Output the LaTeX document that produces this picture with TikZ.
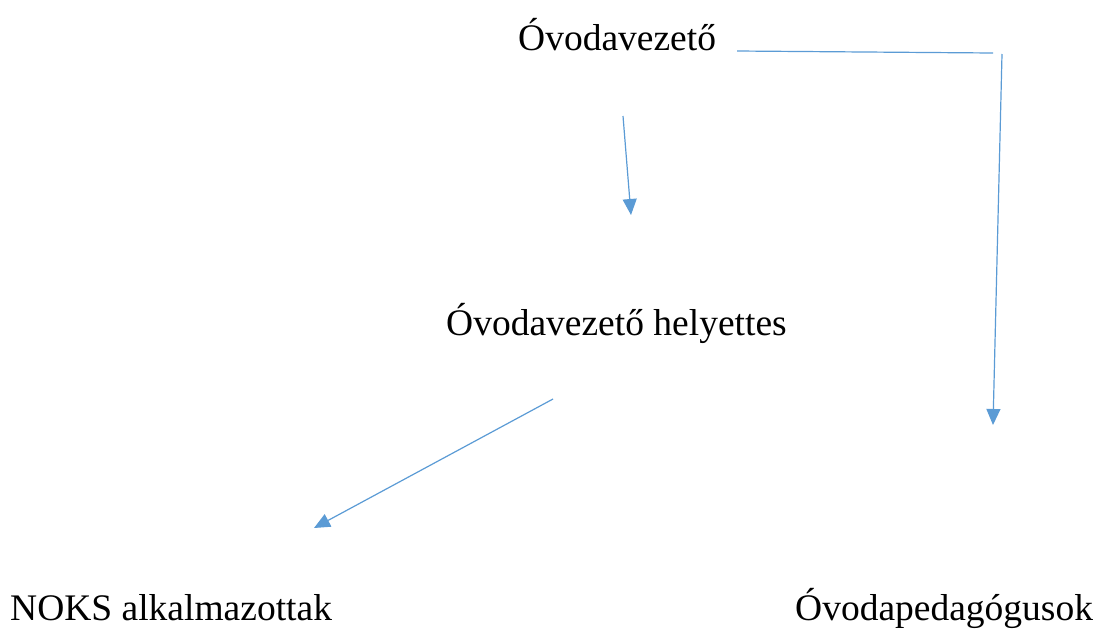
\documentclass[tikz,border=0pt]{standalone}
\usepackage{fontspec}
\setmainfont{Liberation Serif}
\usetikzlibrary{arrows.meta}
\definecolor{arrblue}{HTML}{5B9BD5}
\tikzset{
  lbl/.style={anchor=base west, inner sep=0pt, font=\fontsize{37.5}{45}\selectfont},
  conn/.style={draw=arrblue, line width=1.2pt},
  arr/.style={conn, -{Triangle[length=16pt,width=14pt,fill=arrblue]}}
}
\begin{document}
\begin{tikzpicture}[x=1pt,y=-1pt]
\useasboundingbox (0,0) rectangle (1095,630);
\node[lbl] (ovez) at (518,50) {Óvodavezető};
\node[lbl] (help) at (446,335) {Óvodavezető helyettes};
\node[lbl] (noks) at (10,620) {NOKS alkalmazottak};
\node[lbl] (ped) at (795,620) {Óvodapedagógusok};
\coordinate (a1s) at (623,116);
\coordinate (a1e) at (631,215);
\coordinate (h1s) at (737,51);
\coordinate (h1e) at (993,53);
\coordinate (v1s) at (1002,54);
\coordinate (v1e) at (993,425);
\coordinate (a3s) at (553,399);
\coordinate (a3e) at (314,528);
\draw[arr] (a1s) -- (a1e);
\draw[conn] (h1s) -- (h1e);
\draw[arr] (v1s) -- (v1e);
\draw[arr] (a3s) -- (a3e);
\end{tikzpicture}
\end{document}
